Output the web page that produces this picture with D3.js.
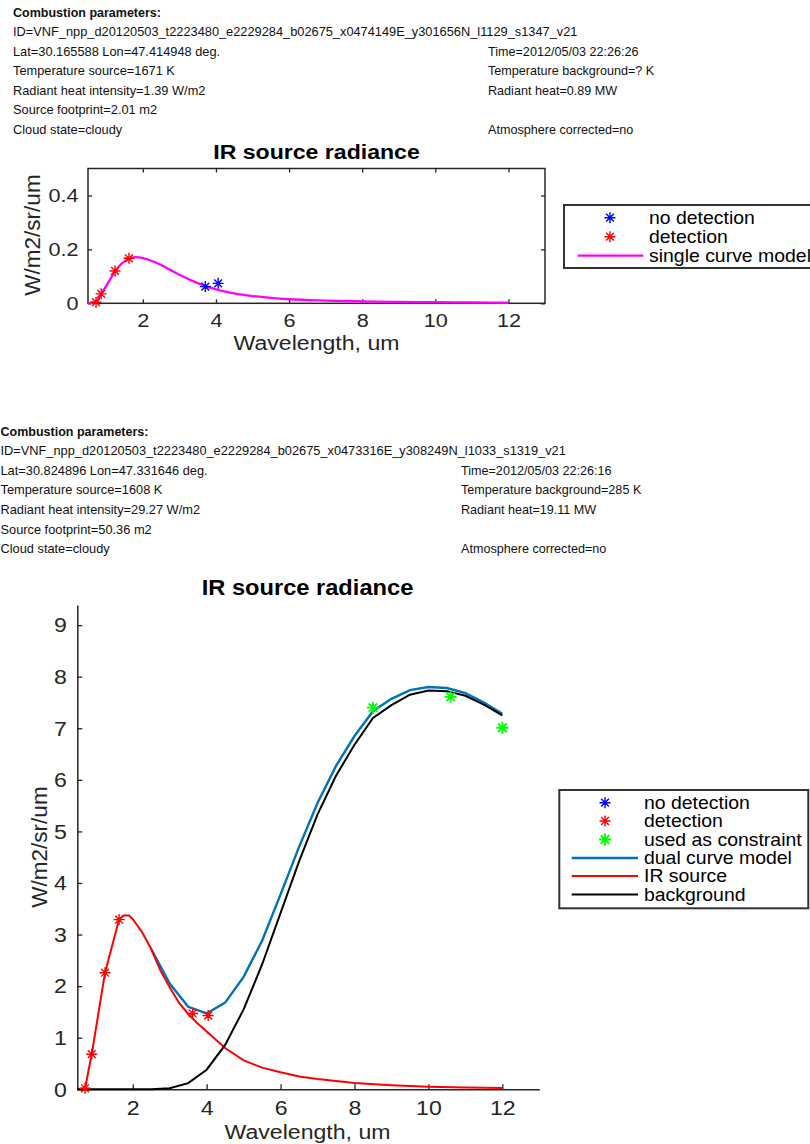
<!DOCTYPE html>
<html>
<head>
<meta charset="utf-8">
<script src="https://cdn.jsdelivr.net/npm/d3@7"></script>
<style>
  html, body { margin: 0; padding: 0; background: #fff; }
  svg { display: block; }
  text { font-family: "Liberation Sans", Arial, Helvetica, sans-serif; }
</style>
</head>
<body>
<svg id="page" width="810" height="1144"></svg>
<script>
// ---------- Header parameters ----------
const headerA = {
  title: "Combustion parameters:",
  left: [
    "ID=VNF_npp_d20120503_t2223480_e2229284_b02675_x0474149E_y301656N_l1129_s1347_v21",
    "Lat=30.165588 Lon=47.414948 deg.",
    "Temperature source=1671 K",
    "Radiant heat intensity=1.39 W/m2",
    "Source footprint=2.01 m2",
    "Cloud state=cloudy"
  ],
  right: [null, "Time=2012/05/03 22:26:26", "Temperature background=? K", "Radiant heat=0.89 MW", null, "Atmosphere corrected=no"]
};
const headerB = {
  title: "Combustion parameters:",
  left: [
    "ID=VNF_npp_d20120503_t2223480_e2229284_b02675_x0473316E_y308249N_l1033_s1319_v21",
    "Lat=30.824896 Lon=47.331646 deg.",
    "Temperature source=1608 K",
    "Radiant heat intensity=29.27 W/m2",
    "Source footprint=50.36 m2",
    "Cloud state=cloudy"
  ],
  right: [null, "Time=2012/05/03 22:26:16", "Temperature background=285 K", "Radiant heat=19.11 MW", null, "Atmosphere corrected=no"]
};

// ---------- Chart A: single curve model ----------
const xTicks = [2, 4, 6, 8, 10, 12];
const yTicksA = [0, 0.2, 0.4];
const yTickLabelsA = ["0", "0.2", "0.4"];
const detectWlA = [0.72, 0.86, 1.24, 1.62];
const detectValA = [0.004, 0.035, 0.12, 0.167];
const noDetectWlA = [3.71, 4.06];
const noDetectValA = [0.062, 0.074];
const singleWl  = [0.5, 0.72, 0.86, 1.0, 1.24, 1.4, 1.62, 1.8, 2.0, 2.25, 2.5, 2.75, 3.0, 3.5, 4.0, 4.5, 5.0, 5.5, 6.0, 7.0, 8.0, 9.0, 10.0, 11.0, 12.0];
const singleVal = [0, 0.006, 0.035, 0.065, 0.118, 0.145, 0.165, 0.171, 0.168, 0.157, 0.142, 0.124, 0.106, 0.075, 0.052, 0.037, 0.027, 0.02, 0.015, 0.01, 0.007, 0.005, 0.004, 0.003, 0.002];

// ---------- Chart B: dual curve model ----------
const yTicksB = [0, 1, 2, 3, 4, 5, 6, 7, 8, 9];
const detectWlB = [0.71, 0.89, 1.25, 1.63, 3.62, 4.04];
const detectValB = [0.02, 0.68, 2.26, 3.29, 1.47, 1.43];
const constraintWl = [8.5, 10.6, 12.0];
const constraintVal = [7.40, 7.61, 7.01];
const sourceWl  = [0.5, 0.71, 0.89, 1.25, 1.63, 1.75, 1.9, 2.0, 2.25, 2.5, 2.75, 3.0, 3.25, 3.5, 3.75, 4.0, 4.5, 5.0, 5.5, 6.0, 6.5, 7.0, 7.5, 8.0, 9.0, 10.0, 11.0, 12.0];
const sourceVal = [0, 0.02, 0.68, 2.26, 3.29, 3.37, 3.37, 3.3, 3.05, 2.72, 2.3, 1.98, 1.68, 1.46, 1.28, 1.12, 0.8, 0.56, 0.42, 0.33, 0.25, 0.2, 0.16, 0.12, 0.08, 0.05, 0.035, 0.025];
const dualWl  = [2.5, 3.0, 3.5, 4.0, 4.5, 5.0, 5.5, 6.0, 6.5, 7.0, 7.5, 8.0, 8.5, 9.0, 9.5, 10.0, 10.5, 11.0, 11.5, 12.0];
const dualVal = [2.72, 2.05, 1.6, 1.47, 1.68, 2.18, 2.88, 3.78, 4.7, 5.55, 6.27, 6.85, 7.33, 7.57, 7.74, 7.8, 7.78, 7.68, 7.5, 7.28];
const bgWl  = [0.5, 2.5, 3.0, 3.5, 4.0, 4.5, 5.0, 5.5, 6.0, 6.5, 7.0, 7.5, 8.0, 8.5, 9.0, 9.5, 10.0, 10.5, 11.0, 11.5, 12.0];
const bgVal = [0, 0, 0.02, 0.12, 0.38, 0.86, 1.55, 2.42, 3.42, 4.42, 5.33, 6.08, 6.68, 7.2, 7.45, 7.65, 7.73, 7.72, 7.63, 7.46, 7.25];

// ---------- Colours ----------
const C = {
  axis: "#262626",
  red: "#ff0000",
  blue: "#0000ff",
  green: "#00ff00",
  magenta: "#ff00ff",
  dual: "#0072bd",
  bg: "#000000"
};

const svg = d3.select("#page");

// text stretched horizontally, as rendered by the plotting tool
function label(g, x, y, s, o = {}) {
  const sx = o.sx || 1;
  const t = g.append("text")
    .attr("transform", `translate(${x},${y})` + (o.rot ? ` rotate(${o.rot}) scale(1,${sx})` : ` scale(${sx},1)`))
    .attr("font-size", o.size || 12)
    .attr("font-weight", o.bold ? "bold" : null)
    .attr("text-anchor", o.anchor || "start")
    .attr("fill", o.fill || "#111")
    .text(s);
  if (o.dy) t.attr("dy", o.dy);
  return t;
}

function star(g, x, y, r, color, w = 1.4) {
  const d = r * 0.7071;
  g.append("path")
    .attr("d", `M${x - r},${y}H${x + r}M${x},${y - r}V${y + r}M${x - d},${y - d}L${x + d},${y + d}M${x - d},${y + d}L${x + d},${y - d}`)
    .attr("stroke", color).attr("stroke-width", w).attr("fill", "none");
}

function header(h, x0, x1, base, step) {
  const g = svg.append("g");
  label(g, x0, base, h.title, { bold: true, size: 12.5 });
  h.left.forEach((s, i) => label(g, x0, base + step * (i + 1), s, { size: 12.8 }));
  h.right.forEach((s, i) => { if (s) label(g, x1, base + step * (i + 1), s, { size: 12.6 }); });
}

header(headerA, 13, 488, 16.5, 19.55);
header(headerB, 0.5, 461, 435.5, 19.6);

// ---------- Chart A ----------
(function () {
  const L = 88, R = 545, T = 168.5, B = 303.3;
  const x = d3.scaleLinear().domain([0.5, 13]).range([L, R]);
  const y = d3.scaleLinear().domain([0, 0.5]).range([B, T]);
  const g = svg.append("g");

  label(g, 316.5, 158.5, "IR source radiance", { bold: true, size: 21, sx: 1.1, anchor: "middle", fill: "#000" });

  const ax = g.append("g").attr("transform", `translate(0,${B})`)
    .call(d3.axisBottom(x).tickValues(xTicks).tickSize(-4).tickSizeOuter(0).tickPadding(10.5));
  ax.append("g").attr("transform", `translate(0,${T - B})`)
    .call(d3.axisTop(x).tickValues(xTicks).tickSize(-4).tickSizeOuter(0).tickFormat(""));
  const ay = g.append("g").attr("transform", `translate(${L},0)`)
    .call(d3.axisLeft(y).tickValues(yTicksA).tickSize(-4).tickSizeOuter(0).tickPadding(8)
      .tickFormat((d, i) => yTickLabelsA[i]));
  ay.append("g").attr("transform", `translate(${R - L},0)`)
    .call(d3.axisRight(y).tickValues(yTicksA).tickSize(-4).tickSizeOuter(0).tickFormat(""));
  [ax, ay].forEach(a => {
    a.selectAll("path.domain").remove();
    a.selectAll("line").attr("stroke", C.axis).attr("stroke-width", 1.3);
    a.selectAll("text").attr("font-size", 18.5).attr("fill", C.axis)
      .attr("font-family", "Liberation Sans, Arial, sans-serif")
      .attr("transform", "scale(1.17,1)");
  });
  g.append("rect").attr("x", L).attr("y", T).attr("width", R - L).attr("height", B - T)
    .attr("fill", "none").attr("stroke", C.axis).attr("stroke-width", 1.5);

  const line = d3.line().x(d => x(d[0])).y(d => y(d[1])).curve(d3.curveMonotoneX);
  g.append("path").datum(d3.zip(singleWl, singleVal)).attr("d", line)
    .attr("fill", "none").attr("stroke", C.magenta).attr("stroke-width", 2.3);
  detectWlA.forEach((w, i) => star(g, x(w), y(detectValA[i]), 5.5, C.red));
  noDetectWlA.forEach((w, i) => star(g, x(w), y(noDetectValA[i]), 5.5, C.blue));

  label(g, 316.5, 350, "Wavelength, um", { size: 21, sx: 1.1, anchor: "middle", fill: C.axis });
  label(g, 40, 235, "W/m2/sr/um", { size: 22.5, rot: -90, sx: 1.0, anchor: "middle", fill: C.axis });

  // legend
  const lg = g.append("g");
  lg.append("rect").attr("x", 564).attr("y", 205).attr("width", 256).attr("height", 63)
    .attr("fill", "#fff").attr("stroke", "#333").attr("stroke-width", 2);
  const rows = [217.7, 236.7, 255.7];
  star(lg, 610, rows[0], 5.5, C.blue);
  star(lg, 610, rows[1], 5.5, C.red);
  lg.append("line").attr("x1", 577.7).attr("x2", 643.3).attr("y1", rows[2]).attr("y2", rows[2])
    .attr("stroke", C.magenta).attr("stroke-width", 2.3);
  ["no detection", "detection", "single curve model"].forEach((s, i) =>
    label(lg, 649, rows[i], s, { size: 18, sx: 1.08, dy: "0.35em", fill: "#000" }));
})();

// ---------- Chart B ----------
(function () {
  const L = 77.3, R = 539.3, T = 605, B = 1089.3;
  const x = d3.scaleLinear().domain([0.5, 13]).range([L, R]);
  const y = d3.scaleLinear().domain([0, 9.39]).range([B, T]);
  const g = svg.append("g");

  label(g, 307.5, 595, "IR source radiance", { bold: true, size: 21.5, sx: 1.1, anchor: "middle", fill: "#000" });

  const ax = g.append("g").attr("transform", `translate(0,${B})`)
    .call(d3.axisBottom(x).tickValues(xTicks).tickSize(-5).tickSizeOuter(0).tickPadding(10.5));
  const ay = g.append("g").attr("transform", `translate(${L},0)`)
    .call(d3.axisLeft(y).tickValues(yTicksB).tickSize(-5).tickSizeOuter(0).tickPadding(9.5).tickFormat(d3.format("d")));
  [ax, ay].forEach(a => {
    a.selectAll("path.domain").attr("stroke", C.axis).attr("stroke-width", 1.5);
    a.selectAll("line").attr("stroke", C.axis).attr("stroke-width", 1.3);
    a.selectAll("text").attr("font-size", 21).attr("fill", C.axis)
      .attr("font-family", "Liberation Sans, Arial, sans-serif")
      .attr("transform", "scale(1.1,1)");
  });

  const line = d3.line().x(d => x(d[0])).y(d => y(d[1]));
  g.append("path").datum(d3.zip(dualWl, dualVal)).attr("d", line)
    .attr("fill", "none").attr("stroke", C.dual).attr("stroke-width", 2.4);
  g.append("path").datum(d3.zip(sourceWl, sourceVal)).attr("d", line)
    .attr("fill", "none").attr("stroke", C.red).attr("stroke-width", 2);
  g.append("path").datum(d3.zip(bgWl, bgVal)).attr("d", line)
    .attr("fill", "none").attr("stroke", C.bg).attr("stroke-width", 2);
  detectWlB.forEach((w, i) => star(g, x(w), y(detectValB[i]), 5.5, C.red));
  constraintWl.forEach((w, i) => star(g, x(w), y(constraintVal[i]), 6, C.green, 1.8));

  label(g, 307.5, 1139, "Wavelength, um", { size: 21, sx: 1.1, anchor: "middle", fill: C.axis });
  label(g, 46.5, 847, "W/m2/sr/um", { size: 22.5, rot: -90, sx: 1.0, anchor: "middle", fill: C.axis });

  // legend
  const lg = g.append("g");
  lg.append("rect").attr("x", 559.3).attr("y", 790).attr("width", 249).attr("height", 118.3)
    .attr("fill", "#fff").attr("stroke", "#333").attr("stroke-width", 2);
  const rows = [802.7, 821, 839.5, 858, 876, 894.5];
  star(lg, 605, rows[0], 5.5, C.blue);
  star(lg, 605, rows[1], 5.5, C.red);
  star(lg, 605, rows[2], 6, C.green, 1.8);
  [[C.dual, 2.4], [C.red, 2], [C.bg, 2]].forEach((c, i) =>
    lg.append("line").attr("x1", 571.7).attr("x2", 638).attr("y1", rows[3 + i]).attr("y2", rows[3 + i])
      .attr("stroke", c[0]).attr("stroke-width", c[1]));
  ["no detection", "detection", "used as constraint", "dual curve model", "IR source", "background"].forEach((s, i) =>
    label(lg, 644, rows[i], s, { size: 18, sx: 1.08, dy: "0.35em", fill: "#000" }));
})();
</script>
</body>
</html>
